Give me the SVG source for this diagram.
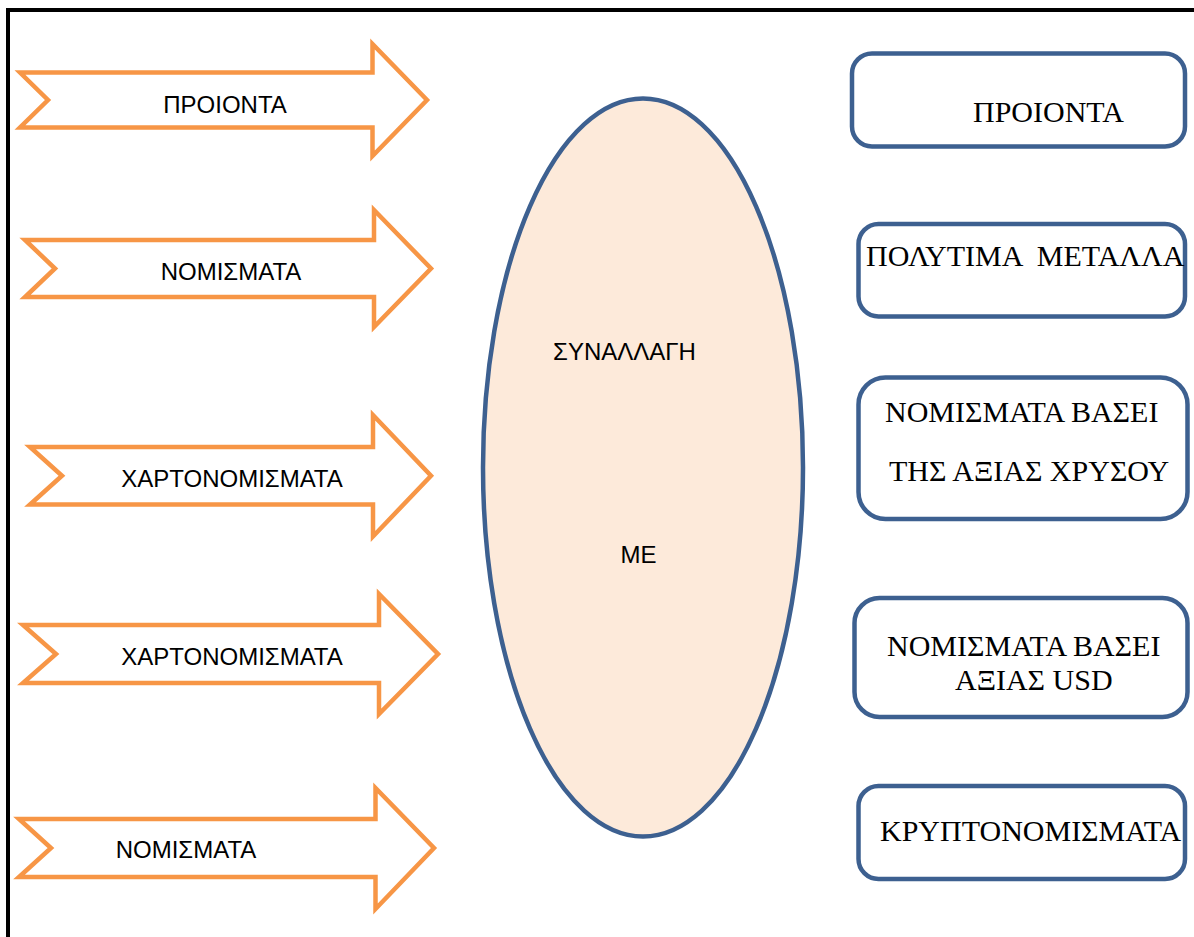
<svg xmlns="http://www.w3.org/2000/svg" width="1194" height="937" viewBox="0 0 1194 937">
<style>
.arrow{fill:#FFFFFF;stroke:#F79646;stroke-width:4.5;stroke-linejoin:miter}
.box{fill:#FFFFFF;stroke:#3D6090;stroke-width:4.5}
.ell{fill:#FDEADA;stroke:#3D6090;stroke-width:4.5}
.sans{font-family:"Liberation Sans",Arial,sans-serif;font-size:24px;fill:#000}
.serif{font-family:"Liberation Serif","Times New Roman",serif;font-size:30px;fill:#000}
</style>
<rect x="0" y="0" width="1194" height="937" fill="#FFFFFF"/>
<g id="frame">
<path d="M8,937 L8,10 L1194,10" fill="none" stroke="#000" stroke-width="4"/>
</g>
<g id="arrow1">
<path class="arrow" d="M20,72.5 L372.5,72.5 L372.5,44 L427,100 L372.5,156 L372.5,127.5 L20,127.5 L48,100 Z"/>
<text class="sans" x="225" y="113" text-anchor="middle">ΠΡΟΙΟΝΤΑ</text>
</g>
<g id="arrow2">
<path class="arrow" d="M25,240 L374,240 L374,210 L431,268.5 L374,327 L374,297 L25,297 L55,268.5 Z"/>
<text class="sans" x="231" y="280" text-anchor="middle">ΝΟΜΙΣΜΑΤΑ</text>
</g>
<g id="arrow3">
<path class="arrow" d="M30,447 L373,447 L373,415 L431,475.7 L373,536.5 L373,504.5 L30,504.5 L62,475.7 Z"/>
<text class="sans" x="232" y="487" text-anchor="middle">ΧΑΡΤΟΝΟΜΙΣΜΑΤΑ</text>
</g>
<g id="arrow4">
<path class="arrow" d="M23,625 L379,625 L379,594 L438,654 L379,714 L379,683 L23,683 L56,654 Z"/>
<text class="sans" x="232" y="665" text-anchor="middle">ΧΑΡΤΟΝΟΜΙΣΜΑΤΑ</text>
</g>
<g id="arrow5">
<path class="arrow" d="M19,819 L375.5,819 L375.5,788 L434,848 L375.5,909 L375.5,877 L19,877 L51,848 Z"/>
<text class="sans" x="186" y="858" text-anchor="middle">ΝΟΜΙΣΜΑΤΑ</text>
</g>
<g id="center">
<ellipse class="ell" cx="643" cy="467.5" rx="160" ry="369"/>
<text class="sans" x="624.5" y="360" text-anchor="middle">ΣΥΝΑΛΛΑΓΗ</text>
<text class="sans" x="638.5" y="563" text-anchor="middle">ΜΕ</text>
</g>
<g id="box1">
<rect class="box" x="852" y="53.5" width="333" height="93" rx="20"/>
<text class="serif" x="973" y="122">ΠΡΟΙΟΝΤΑ</text>
</g>
<g id="box2">
<rect class="box" x="858.5" y="224" width="326.5" height="92.5" rx="20"/>
<text class="serif" x="866" y="266" xml:space="preserve">ΠΟΛΥΤΙΜΑ  ΜΕΤΑΛΛΑ</text>
</g>
<g id="box3">
<rect class="box" x="858.5" y="377.5" width="329" height="141.5" rx="27"/>
<text class="serif" x="885" y="422">ΝΟΜΙΣΜΑΤΑ ΒΑΣΕΙ</text>
<text class="serif" x="889" y="481">ΤΗΣ ΑΞΙΑΣ ΧΡΥΣΟΥ</text>
</g>
<g id="box4">
<rect class="box" x="854.5" y="598" width="333" height="119" rx="25"/>
<text class="serif" x="887" y="656">ΝΟΜΙΣΜΑΤΑ ΒΑΣΕΙ</text>
<text class="serif" x="955" y="690">ΑΞΙΑΣ USD</text>
</g>
<g id="box5">
<rect class="box" x="858.5" y="786" width="326.5" height="93" rx="20"/>
<text class="serif" x="880" y="841">ΚΡΥΠΤΟΝΟΜΙΣΜΑΤΑ</text>
</g>
<g id="connectors"></g>
</svg>
